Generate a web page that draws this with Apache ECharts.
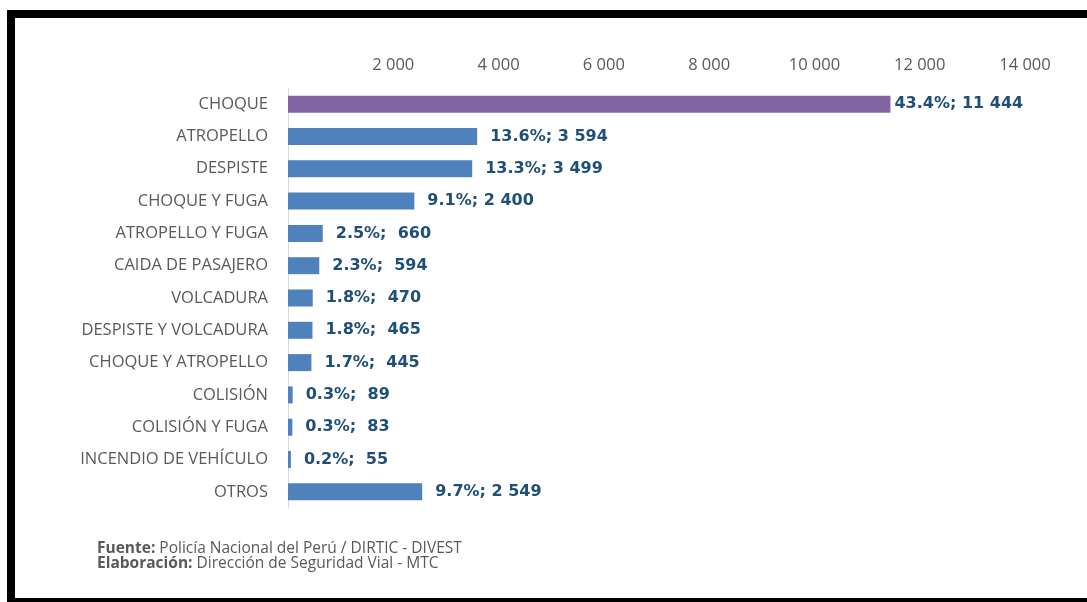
<!DOCTYPE html>
<html>
<head>
<meta charset="utf-8">
<script src="https://cdn.jsdelivr.net/npm/echarts@6/dist/echarts.min.js"></script>
<style>
html,body{margin:0;padding:0;background:#fff;}
#wrap{position:relative;width:1087px;height:602px;overflow:hidden;}
#chart{position:absolute;left:0;top:0;width:1087px;height:602px;}
.b{position:absolute;background:#000;}
</style>
</head>
<body>
<div id="wrap">
<div id="chart"></div>
<div class="b" style="left:7px;top:10px;width:1080px;height:8px;"></div>
<div class="b" style="left:7px;top:10px;width:8px;height:592px;"></div>
<div class="b" style="left:7px;top:598px;width:1080px;height:4px;"></div>
</div>
<script>
const categories = ['CHOQUE','ATROPELLO','DESPISTE','CHOQUE Y FUGA','ATROPELLO Y FUGA','CAIDA DE PASAJERO','VOLCADURA','DESPISTE Y VOLCADURA','CHOQUE Y ATROPELLO','COLISIÓN','COLISIÓN Y FUGA','INCENDIO DE VEHÍCULO','OTROS'];
const values = [11444, 3594, 3499, 2400, 660, 594, 470, 465, 445, 89, 83, 55, 2549];
const percents = ['43.4','13.6','13.3','9.1','2.5','2.3','1.8','1.8','1.7','0.3','0.3','0.2','9.7'];
const xTicks = [0, 2000, 4000, 6000, 8000, 10000, 12000, 14000];

function fmt(v){ return String(v).replace(/\B(?=(\d{3})+(?!\d))/g, ' '); }

const chart = echarts.init(document.getElementById('chart'));
const data = values.map((v,i)=>{
  const item = {value:v};
  if (i===0) {
    item.itemStyle = {color:'#8064A2'};
    item.label = {distance:4};
  }
  return item;
});
chart.setOption({
  animation:false,
  grid:{left:288,right:62,top:88,bottom:94},
  xAxis:{
    type:'value', position:'top', min:xTicks[0], max:xTicks[xTicks.length-1], interval:2000,
    axisLine:{show:false}, axisTick:{show:false}, splitLine:{show:false},
    axisLabel:{color:'#595959', fontFamily:'Open Sans', fontSize:16.5, margin:14,
      formatter:v=> v===0 ? '' : fmt(v)}
  },
  yAxis:{
    type:'category', data:categories, inverse:true,
    axisLine:{lineStyle:{color:'#D9D9D9', width:1}}, axisTick:{show:false},
    axisLabel:{color:'#595959', fontFamily:'Open Sans', fontSize:16.5, margin:20}
  },
  series:[{
    type:'bar', data:data, barWidth:17,
    itemStyle:{color:'#4F81BD'},
    label:{show:true, position:'right', distance:13, color:'#1F4E79', fontFamily:'DejaVu Sans', fontWeight:'bold', fontSize:16,
      formatter:p=>{
        const sep = p.value >= 1000 ? ' ' : '  ';
        return percents[p.dataIndex] + '%;' + sep + fmt(p.value);
      }}
  }],
  graphic:[{
    type:'text', left:97, top:541,
    style:{
      text:'{b|Fuente:} Policía Nacional del Perú / DIRTIC - DIVEST\n{b|Elaboración:} Dirección de Seguridad Vial - MTC',
      lineHeight:14.5,
      rich:{b:{fontWeight:'bold', fill:'#595959', fontFamily:'Open Sans', fontSize:15.5, lineHeight:14.5}},
      fill:'#595959', fontFamily:'Open Sans', fontSize:15.5
    }
  }]
});
</script>
</body>
</html>
